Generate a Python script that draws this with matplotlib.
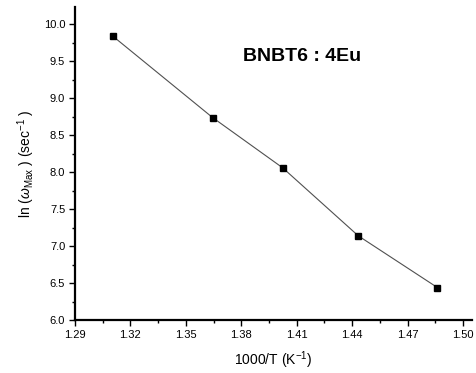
import matplotlib
matplotlib.use("Agg")
import matplotlib.pyplot as plt
from matplotlib.ticker import MultipleLocator, FormatStrFormatter

# Arrhenius-type plot of the relaxation peak frequency
inv_temp = [1.3106, 1.3645, 1.4024, 1.4433, 1.4861]
ln_omega = [9.84, 8.74, 8.06, 7.14, 6.44]
sample_name = "BNBT6 : 4Eu"

plt.rcParams["font.family"] = ["Liberation Sans", "DejaVu Sans"]
plt.rcParams["mathtext.fontset"] = "custom"
plt.rcParams["mathtext.rm"] = "Liberation Sans"
plt.rcParams["mathtext.it"] = "Liberation Sans:italic"

fig = plt.figure(figsize=(4.77, 3.73), dpi=100)
ax = fig.add_axes([0.157, 0.142, 0.832, 0.840])

ax.plot(inv_temp, ln_omega, color="#505050", linewidth=0.8,
        marker="s", markersize=5, markerfacecolor="black", markeredgecolor="black")

ax.set_xlim(1.29, 1.5047)
ax.set_ylim(6.0, 10.24)
ax.xaxis.set_major_locator(MultipleLocator(0.03))
ax.xaxis.set_minor_locator(MultipleLocator(0.015))
ax.yaxis.set_major_locator(MultipleLocator(0.5))
ax.yaxis.set_minor_locator(MultipleLocator(0.25))
ax.xaxis.set_major_formatter(FormatStrFormatter("%.2f"))
ax.yaxis.set_major_formatter(FormatStrFormatter("%.1f"))

for side in ("top", "right"):
    ax.spines[side].set_visible(False)
for side in ("left", "bottom"):
    ax.spines[side].set_linewidth(1.6)

ax.tick_params(which="major", direction="out", length=4, width=1, labelsize=8, pad=3)
ax.tick_params(which="minor", direction="out", length=2.5, width=1)

ax.set_xlabel(r"1000/T (K$^{\mathregular{-1}}$)", fontsize=10, labelpad=7)
ax.set_ylabel(r"ln ($\omega_{\mathregular{Max}}$ ) (sec$^{\mathregular{-1}}$ )",
              fontsize=10, labelpad=5)

ax.text(1.413, 9.57, sample_name, fontsize=14, fontweight="bold",
        ha="center", va="center")

fig.savefig("out.png", dpi=100)
